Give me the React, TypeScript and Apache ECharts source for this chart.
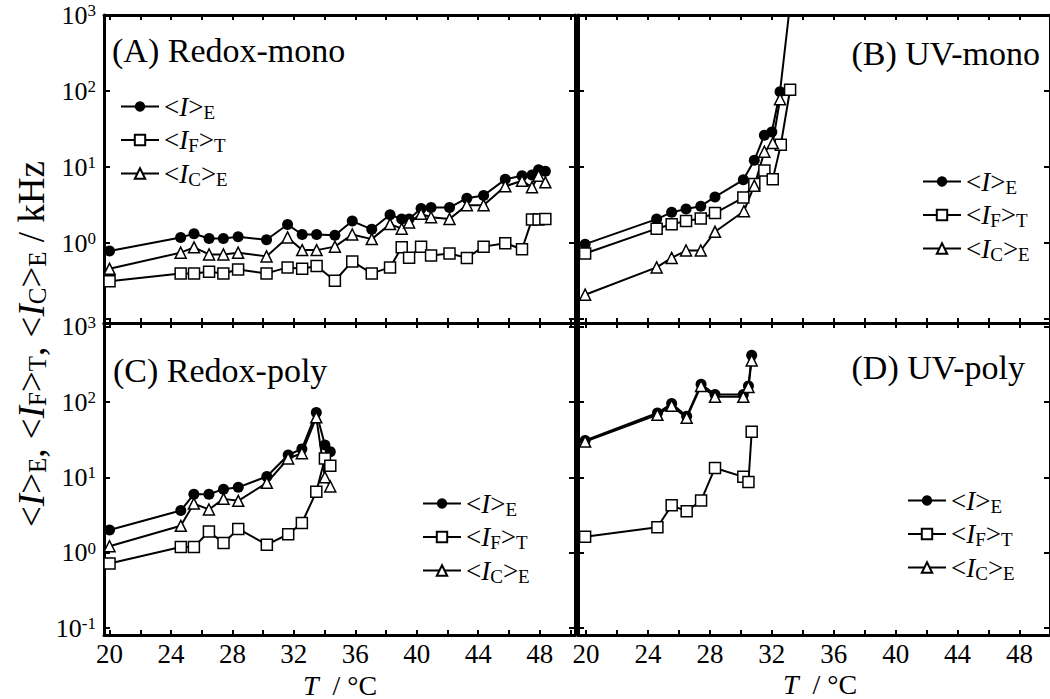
import React, { useEffect, useRef } from 'react';
import * as echarts from 'echarts';

const FONT = '"Liberation Serif", "Times New Roman", serif';

// ---------- data (T in °C, intensities in kHz) ----------
// (A) Redox-mono
const tA = [20.0, 24.63, 25.5, 26.48, 27.41, 28.37, 30.22, 31.59, 32.54, 33.48, 34.67, 35.8, 37.07, 38.26, 39.02, 39.5, 40.28, 40.93, 42.13, 43.26, 44.35, 45.76, 46.85, 47.5, 47.93, 48.37];
const aI = [0.79, 1.19, 1.33, 1.15, 1.15, 1.21, 1.11, 1.76, 1.3, 1.3, 1.27, 1.95, 1.52, 2.36, 2.08, 2.08, 2.85, 2.94, 2.94, 3.9, 4.24, 6.9, 7.7, 7.86, 9.2, 8.8];
const aF = [0.316, 0.4, 0.4, 0.42, 0.4, 0.45, 0.4, 0.48, 0.46, 0.5, 0.32, 0.575, 0.4, 0.48, 0.88, 0.645, 0.9, 0.69, 0.73, 0.64, 0.9, 1.0, 0.83, 2.04, 2.04, 2.08];
const aC = [0.46, 0.75, 0.88, 0.71, 0.71, 0.75, 0.67, 1.19, 0.81, 0.81, 0.9, 1.3, 1.13, 1.78, 1.55, 1.87, 2.43, 2.19, 2.08, 3.16, 3.16, 5.6, 6.6, 5.45, 7.7, 6.3];

// (B) UV-mono
const tBI = [19.94, 24.56, 25.53, 26.46, 27.41, 28.33, 30.16, 30.87, 31.52, 32.0, 32.53, 33.1];
const bI = [0.97, 2.07, 2.54, 2.82, 3.06, 4.05, 6.8, 12.3, 26.3, 29, 98, 1000];
const tBF = [19.94, 24.56, 25.53, 26.46, 27.41, 28.33, 30.16, 30.87, 31.52, 32.06, 32.58, 33.18];
const bF = [0.73, 1.55, 1.77, 1.96, 2.11, 2.49, 3.97, 6.0, 9.0, 6.9, 19.6, 104];
const tBC = [19.94, 24.56, 25.53, 26.46, 27.41, 28.33, 30.2, 30.87, 31.52, 32.06, 32.53];
const bC = [0.21, 0.48, 0.64, 0.8, 0.8, 1.41, 2.63, 5.7, 15.9, 20.7, 78];

// (C) Redox-poly
const tC = [20.0, 24.64, 25.49, 26.47, 27.42, 28.38, 30.24, 31.63, 32.52, 33.46, 34.02, 34.37];
const cI = [2.01, 3.64, 6.0, 6.0, 7.0, 7.4, 10.3, 19.9, 24, 73, 27, 22];
const cF = [0.72, 1.19, 1.19, 1.91, 1.35, 2.07, 1.28, 1.76, 2.48, 6.45, 17.9, 14.3];
const cC = [1.22, 2.28, 4.5, 3.76, 5.2, 4.9, 8.5, 17.9, 21, 63, 10.1, 7.6];

// (D) UV-poly
const tD = [19.94, 24.61, 25.53, 26.5, 27.43, 28.33, 30.16, 30.49, 30.7];
const dI = [31, 72, 96, 65, 174, 127, 127, 164, 420];
const dF = [1.63, 2.18, 4.27, 3.55, 4.94, 13.4, 10.2, 8.7, 40.5];
const dC = [30, 68, 90, 62, 165, 118, 118, 160, 360];

const panelTitles = ['(A) Redox-mono', '(B) UV-mono', '(C) Redox-poly', '(D) UV-poly'];
const xTickValues = [20, 22, 24, 26, 28, 30, 32, 34, 36, 38, 40, 42, 44, 46, 48, 50];
const xLabelValues = [20, 24, 28, 32, 36, 40, 44, 48];

// ---------- layout ----------
const grids = [
  { left: 104, top: 15, width: 471, height: 308 },
  { left: 578, top: 15, width: 472, height: 308 },
  { left: 104, top: 323, width: 471, height: 312 },
  { left: 578, top: 323, width: 472, height: 312 },
];
const xRanges = [[19.64, 50.3], [19.48, 49.97], [19.64, 50.3], [19.48, 49.97]];
const yRanges = [
  [Math.pow(10, -1.05), 1000],
  [Math.pow(10, -1.05), 1000],
  [Math.pow(10, -1.093), Math.pow(10, 3.053)],
  [Math.pow(10, -1.093), Math.pow(10, 3.053)],
];
const legendPos = [
  { left: 120, top: 93 },
  { left: 922, top: 168 },
  { left: 422, top: 490 },
  { left: 907, top: 487 },
];

const legendRich = {
  m: { fontFamily: FONT, fontSize: 27, lineHeight: 30, color: '#000' },
  i: { fontFamily: FONT, fontSize: 27, lineHeight: 30, fontStyle: 'italic', color: '#000' },
  s: { fontFamily: FONT, fontSize: 19, lineHeight: 12, verticalAlign: 'bottom', color: '#000' },
};
const legendLabel = (name: string) => {
  const k = name.split('_')[1];
  if (k === 'I') return '{m|<}{i|I}{m|>}{s|E}';
  if (k === 'F') return '{m|<}{i|I}{s|F}{m|>}{s|T}';
  return '{m|<}{i|I}{s|C}{m|>}{s|E}';
};

function buildOption() {
  const letters = ['A', 'B', 'C', 'D'];
  const xAxis: any[] = [];
  const yAxis: any[] = [];
  const line = { show: true, onZero: false, lineStyle: { color: '#000', width: 3 } };
  grids.forEach((g, i) => {
    const [xmin, xmax] = xRanges[i];
    const [ymin, ymax] = yRanges[i];
    const bottomRow = i >= 2;
    const leftCol = i % 2 === 0;
    ['bottom', 'top'].forEach((pos, k) => {
      xAxis.push({
        type: 'value', gridIndex: i, position: pos, min: xmin, max: xmax,
        axisLine: line,
        axisTick: { show: true, inside: true, length: 5, customValues: xTickValues, lineStyle: { color: '#000', width: 2 } },
        axisLabel: {
          show: k === 0 && bottomRow, customValues: xLabelValues, margin: 5,
          fontFamily: FONT, fontSize: 27, color: '#000',
        },
        splitLine: { show: false },
      });
    });
    ['left', 'right'].forEach((pos, k) => {
      yAxis.push({
        type: 'log', logBase: 10, gridIndex: i, position: pos, min: ymin, max: ymax,
        axisLine: line,
        axisTick: { show: true, inside: true, length: 6, lineStyle: { color: '#000', width: 2 } },
        axisLabel: {
          show: k === 0 && leftCol, margin: 8,
          formatter: (v: number) => {
            const e = Math.log10(v);
            const r = Math.round(e);
            if (Math.abs(e - r) > 1e-6) return '';
            if (!bottomRow && r < 0) return '';
            return `{b|10}{s|${r}}`;
          },
          rich: {
            b: { fontFamily: FONT, fontSize: 26, lineHeight: 26, color: '#000' },
            s: { fontFamily: FONT, fontSize: 17, lineHeight: 8, verticalAlign: 'top', color: '#000' },
          },
        },
        splitLine: { show: false },
      });
    });
  });

  const mk = (name: string, xs: number[], ys: number[], gi: number, kind: string) => ({
    type: 'line', name, xAxisIndex: gi * 2, yAxisIndex: gi * 2,
    data: xs.map((x, k) => {
      const item: any = { value: [x, ys[k]] };
      if (ys[k] >= 1000) item.symbol = 'none';
      return item;
    }),
    symbol: kind === 'I' ? 'circle' : kind === 'F' ? 'rect' : 'triangle',
    symbolSize: 11,
    showAllSymbol: true,
    lineStyle: { color: '#000', width: 2 },
    itemStyle: kind === 'I' ? { color: '#000' } : { color: '#fff', borderColor: '#000', borderWidth: 1.5 },
    emphasis: { disabled: true },
    silent: true,
    clip: true,
  });

  const series = [
    mk('A_I', tA, aI, 0, 'I'), mk('A_F', tA, aF, 0, 'F'), mk('A_C', tA, aC, 0, 'C'),
    mk('B_I', tBI, bI, 1, 'I'), mk('B_F', tBF, bF, 1, 'F'), mk('B_C', tBC, bC, 1, 'C'),
    mk('C_I', tC, cI, 2, 'I'), mk('C_F', tC, cF, 2, 'F'), mk('C_C', tC, cC, 2, 'C'),
    mk('D_I', tD, dI, 3, 'I'), mk('D_F', tD, dF, 3, 'F'), mk('D_C', tD, dC, 3, 'C'),
  ];

  const legend = letters.map((L, i) => ({
    orient: 'vertical', left: legendPos[i].left, top: legendPos[i].top, padding: 0,
    itemGap: 5, itemWidth: 38, itemHeight: 13, selectedMode: false,
    data: [`${L}_I`, `${L}_F`, `${L}_C`],
    formatter: legendLabel,
    textStyle: { fontFamily: FONT, fontSize: 27, color: '#000', rich: legendRich },
  }));

  const titleStyle = { fontFamily: FONT, fontSize: 34, fill: '#000' };
  const graphic: any[] = [
    { type: 'text', x: 112, y: 50, style: { ...titleStyle, text: panelTitles[0], align: 'left', verticalAlign: 'middle' } },
    { type: 'text', x: 1040, y: 53, style: { ...titleStyle, text: panelTitles[1], align: 'right', verticalAlign: 'middle' } },
    { type: 'text', x: 113, y: 370, style: { ...titleStyle, text: panelTitles[2], align: 'left', verticalAlign: 'middle' } },
    { type: 'text', x: 1025, y: 367, style: { ...titleStyle, text: panelTitles[3], align: 'right', verticalAlign: 'middle' } },
    {
      type: 'text', x: 31, y: 344, rotation: Math.PI / 2,
      style: {
        text: '{m|<}{i|I}{m|>}{s|E}{m|, <}{i|I}{s|F}{m|>}{s|T}{m|, <}{i|I}{s|C}{m|>}{s|E}{m| / kHz}',
        align: 'center', verticalAlign: 'middle',
        rich: {
          m: { fontFamily: FONT, fontSize: 37, lineHeight: 38, fill: '#000' },
          i: { fontFamily: FONT, fontSize: 37, lineHeight: 38, fontStyle: 'italic', fill: '#000' },
          s: { fontFamily: FONT, fontSize: 25, lineHeight: 14, verticalAlign: 'bottom', fill: '#000' },
        },
      },
    },
    ...[[340, 685], [820, 684]].map(([x, y]) => ({
      type: 'text', x, y,
      style: {
        text: '{i|T}{m|  / °C}', align: 'center', verticalAlign: 'middle',
        rich: {
          i: { fontFamily: FONT, fontSize: 28, fontStyle: 'italic', fill: '#000' },
          m: { fontFamily: FONT, fontSize: 28, fill: '#000' },
        },
      },
    })),
  ];

  return {
    animation: false,
    backgroundColor: '#fff',
    grid: grids.map((g) => ({ ...g, containLabel: false })),
    xAxis, yAxis, series, legend, graphic,
  };
}

export default function App() {
  const ref = useRef<HTMLDivElement>(null);
  useEffect(() => {
    const chart = echarts.init(ref.current as HTMLDivElement, null, { renderer: 'svg' });
    chart.setOption(buildOption() as any);
    return () => chart.dispose();
  }, []);
  return (
    <div
      ref={ref}
      style={{ position: 'absolute', left: 0, top: 0, width: 1050, height: 699, background: '#fff' }}
    />
  );
}
